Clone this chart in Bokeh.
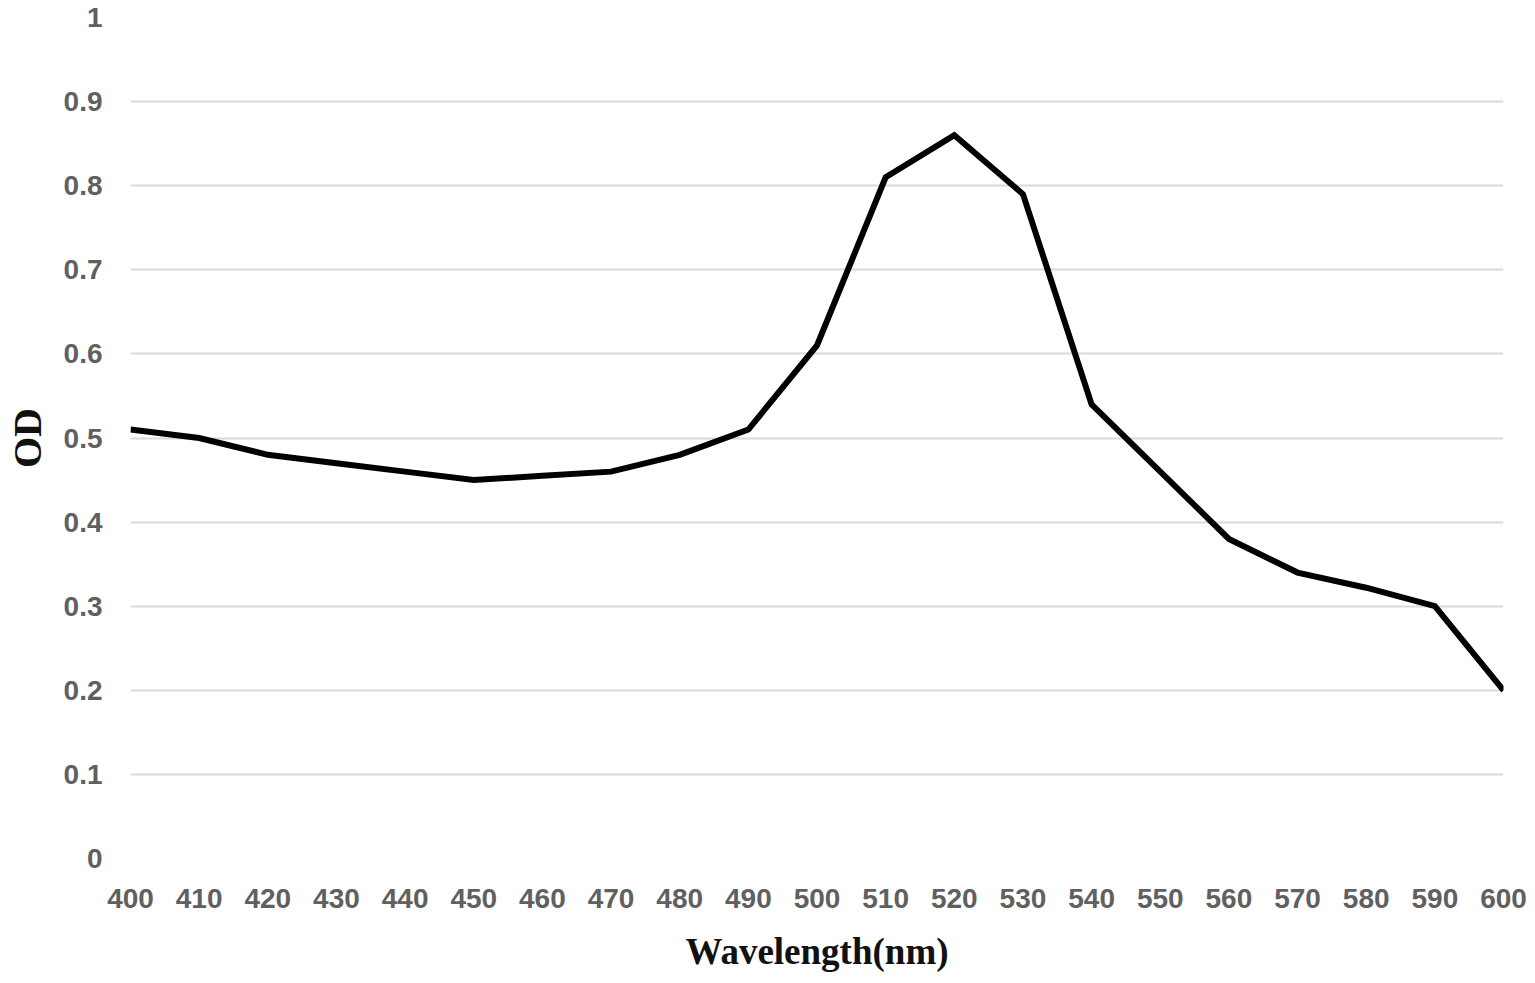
from bokeh.plotting import figure
from bokeh.models import FixedTicker, Range1d
from bokeh.embed import file_html
from bokeh.resources import INLINE

wavelength = [400, 410, 420, 430, 440, 450, 460, 470, 480, 490, 500,
              510, 520, 530, 540, 550, 560, 570, 580, 590, 600]
od = [0.51, 0.50, 0.48, 0.47, 0.46, 0.45, 0.455, 0.46, 0.48, 0.51, 0.61,
      0.81, 0.86, 0.79, 0.54, 0.46, 0.38, 0.34, 0.322, 0.30, 0.20]
y_ticks = [0, 0.1, 0.2, 0.3, 0.4, 0.5, 0.6, 0.7, 0.8, 0.9, 1.0]
y_labels = ["0", "0.1", "0.2", "0.3", "0.4", "0.5", "0.6", "0.7", "0.8", "0.9", "1"]
x_ticks = wavelength

p = figure(width=1528, height=975, output_backend="svg", toolbar_location=None,
           x_range=Range1d(400, 600), y_range=Range1d(0, 1),
           min_border_left=130, min_border_right=25, min_border_top=17,
           min_border_bottom=117)
p.outline_line_color = None
p.background_fill_color = "white"
p.border_fill_color = "white"

p.line(wavelength, od, line_color="black", line_width=6, line_join="miter")

p.xgrid.grid_line_color = None
p.ygrid.grid_line_color = "#d9d9d9"
p.ygrid.grid_line_width = 2

for ax in (p.xaxis[0], p.yaxis[0]):
    ax.axis_line_color = None
    ax.major_tick_line_color = None
    ax.minor_tick_line_color = None
    ax.major_label_text_font = "Liberation Sans"
    ax.major_label_text_font_style = "bold"
    ax.major_label_text_font_size = "28px"
    ax.major_label_text_color = "#606060"
    ax.axis_label_text_font = "Liberation Serif"
    ax.axis_label_text_font_style = "bold"
    ax.axis_label_text_color = "#111111"

p.xaxis.axis_label_text_font_size = "37px"
p.yaxis.axis_label_text_font_size = "40px"
p.xaxis.ticker = FixedTicker(ticks=x_ticks)
p.yaxis.ticker = FixedTicker(ticks=y_ticks)
p.yaxis.major_label_overrides = {t: l for t, l in zip(y_ticks, y_labels)}
p.xaxis.major_label_standoff = 24
p.yaxis.major_label_standoff = 22
p.xaxis.axis_label = "Wavelength(nm)"
p.yaxis.axis_label = "OD"
p.xaxis.axis_label_standoff = 20
p.yaxis.axis_label_standoff = 11

open("out.html", "w").write(file_html(p, INLINE))
